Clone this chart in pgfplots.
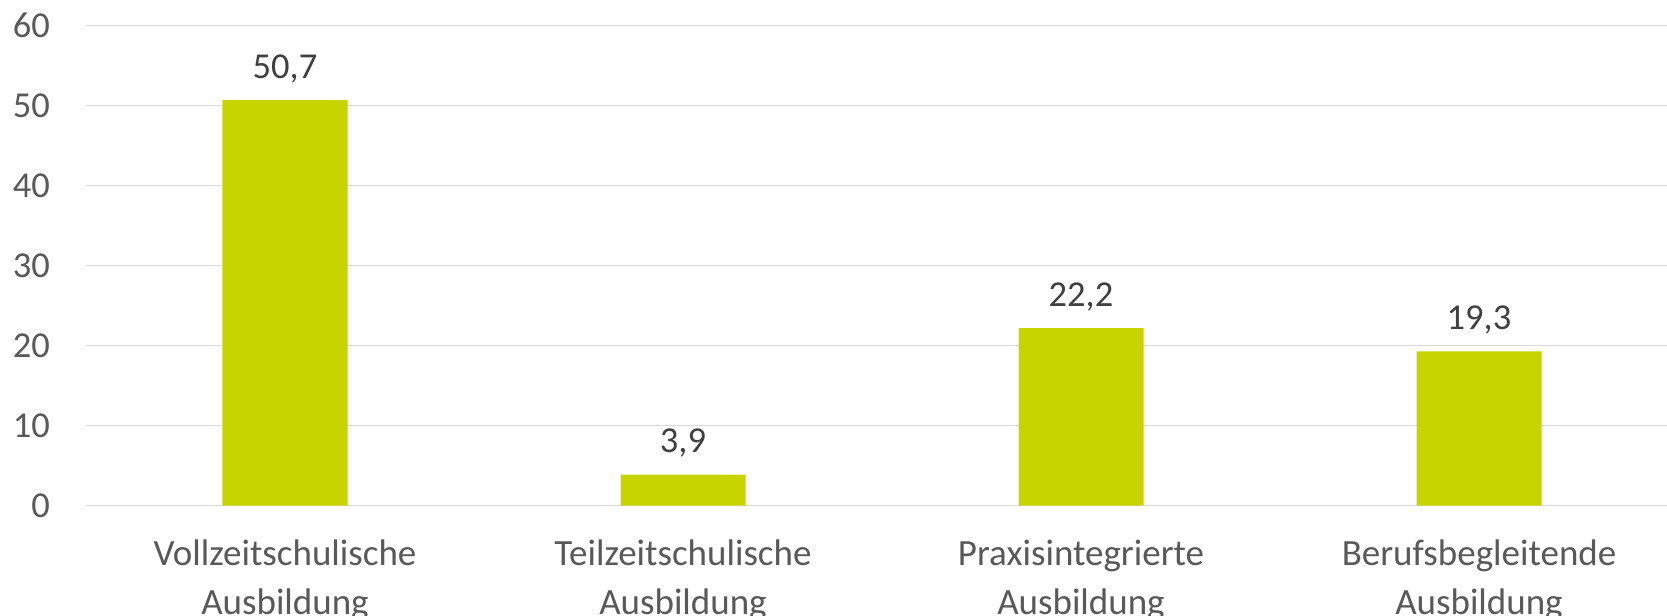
\documentclass[border=0pt]{standalone}
\usepackage{pgfplots}
\pgfplotsset{compat=1.18}
\usepackage{fontspec}
\setmainfont{Carlito}
\definecolor{bargreen}{RGB}{200,212,0}
\definecolor{tickgray}{RGB}{89,89,89}
\definecolor{labgray}{RGB}{64,64,64}
\definecolor{gridgray}{RGB}{217,217,217}
\begin{document}
\begin{tikzpicture}
\begin{axis}[
  name=ax,
  scale only axis,
  width=1592bp, height=480bp,
  xmin=-0.5, xmax=3.5,
  ymin=0, ymax=60,
  ytick={0,10,20,30,40,50,60},
  xtick=data,
  xticklabels={{Vollzeitschulische\\Ausbildung},{Teilzeitschulische\\Ausbildung},{Praxisintegrierte\\Ausbildung},{Berufsbegleitende\\Ausbildung}},
  axis lines*=left,
  axis line style={draw=none},
  major tick length=0pt,
  ymajorgrids,
  major grid style={draw=gridgray, line width=1.5bp},
  /pgf/number format/assume math mode=true,
  yticklabel style={font=\fontsize{36.5bp}{44bp}\selectfont, text=tickgray, anchor=east, inner sep=0pt, xshift=-36bp},
  xticklabel style={font=\fontsize{37bp}{49bp}\selectfont, text=tickgray, align=center, anchor=north, inner sep=0pt, yshift=-34bp},
  ybar,
  bar width=125bp,
  nodes near coords,
  point meta=explicit symbolic,
  every node near coord/.append style={font=\fontsize{36.5bp}{44bp}\selectfont, text=labgray, anchor=base, inner sep=0pt, yshift=22bp},
]
\addplot[fill=bargreen, draw=none] coordinates {
  (0,50.7) [50,7]
  (1,3.9) [3,9]
  (2,22.2) [22,2]
  (3,19.3) [19,3]
};
\end{axis}
\pgfresetboundingbox
\path[use as bounding box] ([shift={(-86bp,-110.3bp)}]ax.south west) rectangle ([shift={(1581bp,25.7bp)}]ax.north west);
\end{tikzpicture}
\end{document}
